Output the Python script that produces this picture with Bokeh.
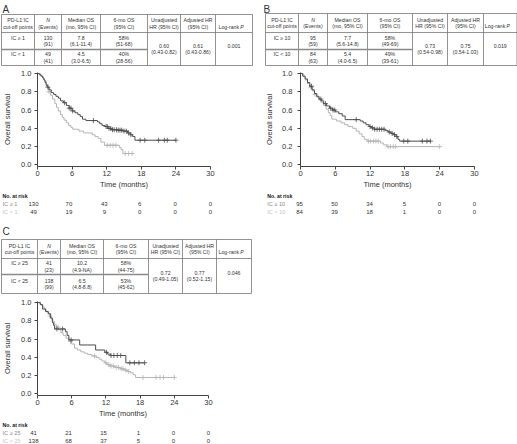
import numpy as np
from bokeh.plotting import figure
from bokeh.layouts import column, row
from bokeh.models import Range1d, NumeralTickFormatter, FixedTicker
from bokeh.core.properties import value
from bokeh.embed import file_html
from bokeh.resources import INLINE

FONT = "Liberation Sans"
DARK = "#4d4d4d"
LIGHT = "#b4b4b4"
TEXT = "#333333"
AXIS = "#444444"
GRIDLINE = "#777777"

# ---------------- data ----------------
TIME_TICKS = [0, 6, 12, 18, 24, 30]
SURV_TICKS = [0.0, 0.2, 0.4, 0.6, 0.8, 1.0]
HEADER = [["PD-L1 IC", "cut-off points"], ["N", "(Events)"], ["Median OS", "(mo, 95% CI)"],
          ["6-mo OS", "(95% CI)"], ["Unadjusted", "HR (95% CI)"], ["Adjusted HR", "(95% CI)"],
          ["Log-rank", "P"]]

# Panel A
a_groups = ["IC \u2265 1", "IC < 1"]
a_n = ["130", "49"]
a_events = ["(91)", "(41)"]
a_median = ["7.8", "4.5"]
a_median_ci = ["(6.1-11.4)", "(3.0-6.5)"]
a_os6 = ["58%", "40%"]
a_os6_ci = ["(51-68)", "(28-56)"]
a_hr = ["0.60", "(0.43-0.82)"]
a_adj = ["0.61", "(0.43-0.86)"]
a_p = "0.001"
a_hi_t = [0, 0.3, 0.6, 0.9, 1.1, 1.3, 1.5, 1.7, 2.0, 2.4, 2.8, 3.2, 3.6, 4.0, 4.5, 5.0, 5.5, 6.0,
          6.5, 7.0, 7.4, 7.8, 8.4, 10.4, 10.8, 11.2, 11.7, 12.2, 12.8, 13.8, 14.8, 15.6, 16.1, 16.5,
          16.9, 24.0]
a_hi_s = [1.0, 0.985, 0.97, 0.95, 0.93, 0.90, 0.87, 0.85, 0.82, 0.79, 0.77, 0.75, 0.73, 0.70, 0.68,
          0.65, 0.62, 0.59, 0.57, 0.55, 0.53, 0.50, 0.485, 0.47, 0.45, 0.43, 0.42, 0.40, 0.385,
          0.38, 0.37, 0.35, 0.33, 0.31, 0.27, 0.27]
a_hi_cens = [1.8, 4.7, 5.5, 5.8, 6.1, 9.7, 11.9, 12.1, 12.4, 12.7, 13.0, 13.3, 13.7, 14.0, 14.3,
             14.6, 15.0, 15.4, 15.8, 16.2, 17.8, 18.6, 21.0, 22.0, 22.5, 24.0]
a_lo_t = [0, 0.5, 0.8, 1.0, 1.2, 1.5, 1.8, 2.0, 2.3, 2.6, 3.0, 3.3, 3.6, 4.0, 4.3, 4.6, 5.0, 5.4,
          5.8, 6.1, 7.2, 8.0, 9.5, 10.0, 10.5, 11.0, 11.6, 14.2, 14.5, 14.8, 16.5]
a_lo_s = [1.0, 0.98, 0.96, 0.94, 0.92, 0.88, 0.84, 0.80, 0.76, 0.72, 0.67, 0.63, 0.59, 0.55, 0.52,
          0.49, 0.46, 0.43, 0.41, 0.39, 0.37, 0.35, 0.33, 0.31, 0.29, 0.25, 0.215, 0.19, 0.17,
          0.125, 0.125]
a_lo_cens = [2.0, 12.1, 12.6, 13.1, 13.6, 15.2, 15.8, 16.4]
a_risk_hi = ["130", "70", "43", "6", "0", "0"]
a_risk_lo = ["49", "19", "9", "0", "0", "0"]

# Panel B
b_groups = ["IC \u2265 10", "IC < 10"]
b_n = ["95", "84"]
b_events = ["(59)", "(63)"]
b_median = ["7.7", "5.4"]
b_median_ci = ["(5.6-14.8)", "(4.0-6.5)"]
b_os6 = ["58%", "49%"]
b_os6_ci = ["(49-69)", "(39-61)"]
b_hr = ["0.73", "(0.54-0.98)"]
b_adj = ["0.75", "(0.54-1.03)"]
b_p = "0.019"
b_hi_t = [0, 0.4, 0.8, 1.2, 1.6, 2.0, 2.4, 2.8, 3.2, 3.6, 4.0, 4.5, 5.0, 5.5, 6.0, 6.6, 7.2, 7.7,
          10.3, 10.8, 11.3, 11.8, 12.2, 12.7, 14.6, 15.1, 15.6, 16.1, 16.5, 16.8, 17.1, 22.5]
b_hi_s = [1.0, 0.97, 0.94, 0.90, 0.86, 0.82, 0.78, 0.75, 0.72, 0.70, 0.67, 0.645, 0.62, 0.60, 0.58,
          0.56, 0.535, 0.495, 0.48, 0.46, 0.44, 0.42, 0.405, 0.39, 0.375, 0.36, 0.345, 0.33, 0.31,
          0.28, 0.26, 0.26]
b_hi_cens = [1.9, 3.5, 4.3, 5.2, 5.6, 5.9, 9.6, 12.0, 12.4, 12.8, 13.2, 13.6, 14.0, 14.4, 15.3,
             15.8, 16.2, 16.6, 17.8, 18.5, 21.0, 21.8, 22.4]
b_lo_t = [0, 0.4, 0.8, 1.2, 1.6, 2.0, 2.4, 2.8, 3.2, 3.6, 4.0, 4.4, 4.8, 5.1, 5.4, 6.2, 7.0, 7.6,
          8.2, 9.0, 9.6, 10.1, 10.6, 11.0, 11.5, 13.8, 14.3, 14.9, 24.0]
b_lo_s = [1.0, 0.97, 0.93, 0.89, 0.85, 0.81, 0.77, 0.74, 0.71, 0.68, 0.65, 0.61, 0.57, 0.54, 0.50,
          0.48, 0.46, 0.44, 0.42, 0.40, 0.37, 0.34, 0.31, 0.28, 0.26, 0.24, 0.22, 0.20, 0.20]
b_lo_cens = [1.8, 2.5, 11.7, 12.1, 12.6, 13.0, 13.4, 15.1, 15.5, 16.0, 16.4, 24.0]
b_risk_hi = ["95", "50", "34", "5", "0", "0"]
b_risk_lo = ["84", "39", "18", "1", "0", "0"]

# Panel C
c_groups = ["IC \u2265 25", "IC < 25"]
c_n = ["41", "138"]
c_events = ["(23)", "(99)"]
c_median = ["10.2", "6.5"]
c_median_ci = ["(4.9-NA)", "(4.8-8.8)"]
c_os6 = ["58%", "53%"]
c_os6_ci = ["(44-75)", "(45-62)"]
c_hr = ["0.72", "(0.49-1.05)"]
c_adj = ["0.77", "(0.52-1.15)"]
c_p = "0.046"
c_hi_t = [0, 0.5, 0.9, 1.4, 1.9, 2.3, 2.6, 2.8, 3.0, 4.9, 5.2, 5.5, 7.4, 10.2, 11.8, 12.3, 12.8,
          15.5, 18.8]
c_hi_s = [1.0, 0.976, 0.927, 0.90, 0.876, 0.83, 0.78, 0.75, 0.71, 0.68, 0.64, 0.59, 0.535, 0.48,
          0.455, 0.435, 0.42, 0.34, 0.34]
c_hi_cens = [3.4, 4.4, 5.9, 12.1, 12.9, 13.4, 14.0, 14.6, 16.2, 17.0, 17.8, 18.8]
c_lo_t = [0, 0.3, 0.6, 0.9, 1.2, 1.5, 1.8, 2.1, 2.4, 2.7, 3.0, 3.3, 3.7, 4.1, 4.5, 5.0, 5.5, 6.0,
          6.5, 7.0, 7.6, 8.2, 8.8, 9.5, 10.3, 10.8, 11.3, 11.8, 12.2, 12.7, 13.6, 14.5, 15.2, 15.8,
          16.3, 16.8, 17.2, 24.0]
c_lo_s = [1.0, 0.985, 0.97, 0.95, 0.93, 0.905, 0.88, 0.85, 0.82, 0.79, 0.76, 0.73, 0.70, 0.67,
          0.64, 0.61, 0.575, 0.545, 0.50, 0.48, 0.46, 0.445, 0.43, 0.415, 0.40, 0.38, 0.36, 0.34,
          0.32, 0.305, 0.29, 0.275, 0.26, 0.245, 0.23, 0.21, 0.18, 0.18]
c_lo_cens = [2.2, 3.6, 5.8, 10.0, 12.0, 12.5, 12.9, 13.3, 13.8, 14.2, 14.7, 15.0, 15.5, 16.0,
             18.5, 20.8, 21.5, 22.1, 24.0]
c_risk_hi = ["41", "21", "15", "1", "0", "0"]
c_risk_lo = ["138", "68", "37", "5", "0", "0"]


# ---------------- helpers ----------------
def txt(p, xs, ys, texts, size, align="center", style="normal", color=TEXT):
    p.text(x=xs, y=ys, text=texts, text_font=value(FONT), text_font_size=value(size),
           text_align=align, text_baseline="middle", text_color=color,
           text_font_style=style)


def base_fig(w, h, **kw):
    p = figure(width=w, height=h, output_backend="svg", toolbar_location=None, title=None,
               outline_line_color=None, **kw)
    p.frame_align = False
    p.grid.visible = False
    return p


def table_figure(w, h, edges, rows, label, label_x, label_y, tbl):
    p = base_fig(w, h, x_range=Range1d(0, w), y_range=Range1d(h, 0),
                 x_axis_type=None, y_axis_type=None, min_border=0)
    txt(p, [label_x], [label_y], [label], "10px", align="left")
    top, hb, mid, bot = rows
    x0s, y0s, x1s, y1s = [], [], [], []
    for y in (top, hb, bot):
        x0s.append(edges[0]); x1s.append(edges[-1]); y0s.append(y); y1s.append(y)
    for x in edges:
        x0s.append(x); x1s.append(x); y0s.append(top); y1s.append(bot)
    p.segment(x0=x0s, y0=y0s, x1=x1s, y1=y1s, line_color=GRIDLINE, line_width=0.8)
    p.segment(x0=[edges[0]], y0=[mid], x1=[edges[4]], y1=[mid], line_color="#8a8a8a",
              line_width=1.5)
    cx = [(edges[i] + edges[i + 1]) / 2 for i in range(7)]
    fs = "5.2px"
    dh = 3.4
    hc = (top + hb) / 2
    for i in range(6):
        style = "italic" if i == 1 else "normal"
        txt(p, [cx[i]], [hc - dh], [HEADER[i][0]], fs, style=style)
        txt(p, [cx[i]], [hc + dh], [HEADER[i][1]], fs)
    txt(p, [cx[6] + 5.0], [hc + dh], [HEADER[6][0]], fs, align="right")
    txt(p, [cx[6] + 6.2], [hc + dh], [HEADER[6][1]], fs, align="left", style="italic")
    groups, n, ev, med, medci, os6, os6ci, hr, adj, pval = tbl
    rc = [(hb + mid) / 2, (mid + bot) / 2]
    for r in range(2):
        txt(p, [cx[0]], [rc[r] - dh], [groups[r]], fs)
        txt(p, [cx[1], cx[1]], [rc[r] - dh, rc[r] + dh], [n[r], ev[r]], fs)
        txt(p, [cx[2], cx[2]], [rc[r] - dh, rc[r] + dh], [med[r], medci[r]], fs)
        txt(p, [cx[3], cx[3]], [rc[r] - dh, rc[r] + dh], [os6[r], os6ci[r]], fs)
    mc = (hb + bot) / 2
    txt(p, [cx[4], cx[4]], [mc - dh, mc + dh], hr, fs)
    txt(p, [cx[5], cx[5]], [mc - dh, mc + dh], adj, fs)
    txt(p, [cx[6]], [mc - dh], [pval], fs)
    return p


def step_at(t, s, x):
    t = np.asarray(t); s = np.asarray(s)
    idx = np.searchsorted(t, np.asarray(x), side="right") - 1
    return s[idx]


def km_figure(w, left, fw, curves, ytick_standoff, ylabel_standoff):
    p = base_fig(w, 125, x_range=Range1d(0, 30), y_range=Range1d(-0.017, 1.01),
                 min_border_left=left, min_border_right=w - left - fw,
                 min_border_top=6, min_border_bottom=22)
    p.xaxis.ticker = FixedTicker(ticks=TIME_TICKS)
    p.yaxis.ticker = FixedTicker(ticks=SURV_TICKS)
    p.yaxis.formatter = NumeralTickFormatter(format="0.0")
    for ax in (p.xaxis[0], p.yaxis[0]):
        ax.axis_line_color = AXIS
        ax.axis_line_width = 1
        ax.major_tick_line_color = AXIS
        ax.major_tick_in = 0
        ax.major_tick_out = 3
        ax.minor_tick_line_color = None
        ax.major_label_text_font = FONT
        ax.major_label_text_font_size = "7.5px"
        ax.major_label_text_color = TEXT
        ax.axis_label_text_font = FONT
        ax.axis_label_text_font_size = "7.5px"
        ax.axis_label_text_font_style = "normal"
        ax.axis_label_text_color = TEXT
    p.xaxis.axis_label = "Time (months)"
    p.yaxis.axis_label = "Overall survival"
    p.xaxis.major_label_standoff = 1
    p.xaxis.axis_label_standoff = 1
    p.yaxis.major_label_standoff = ytick_standoff
    p.yaxis.axis_label_standoff = ylabel_standoff
    for t, s, cens, color in curves:
        p.step(x=t, y=s, mode="after", line_color=color, line_width=1)
        p.scatter(x=cens, y=step_at(t, s, cens), marker="cross", size=5,
                  line_color=color, line_width=0.8)
    return p


def risk_figure(w, left, fw, label_px, groups, hi, lo):
    ppu = fw / 30.0
    p = base_fig(w, 24, x_range=Range1d(-left / ppu, (w - left) / ppu),
                 y_range=Range1d((24 - 4.5) / 7.9, -4.5 / 7.9),
                 x_axis_type=None, y_axis_type=None, min_border=0)
    lx = (label_px - left) / ppu
    txt(p, [lx], [0], ["No. at risk"], "5.2px", align="left", style="bold", color="#111111")
    txt(p, [lx], [1], [groups[0]], "5.6px", align="left", color="#8a8a8a")
    txt(p, [lx], [2], [groups[1]], "5.6px", align="left", color="#c4c4c4")
    txt(p, TIME_TICKS, [1] * 6, hi, "6px")
    txt(p, TIME_TICKS, [2] * 6, lo, "6px")
    return p


def panel(w, th, edges, rows, label, lx, ly, tbl, left, fw, curves, yts, yls, rlx, groups, hi, lo):
    t = table_figure(w, th, edges, rows, label, lx, ly, tbl)
    k = km_figure(w, left, fw, curves, yts, yls)
    r = risk_figure(w, left, fw, rlx, groups, hi, lo)
    return column(t, k, r)


pA = panel(262, 66, [1, 34, 61, 100, 147, 180, 215, 252], [14, 32, 49, 65],
           "A", 2, 9.2,
           (a_groups, a_n, a_events, a_median, a_median_ci, a_os6, a_os6_ci, a_hr, a_adj, a_p),
           33, 177, [(a_lo_t, a_lo_s, a_lo_cens, LIGHT), (a_hi_t, a_hi_s, a_hi_cens, DARK)],
           3, 6, 2, a_groups, a_risk_hi, a_risk_lo)
pB = panel(255, 66, [3, 36, 65, 105, 150, 185, 221, 254.5], [13, 32, 49, 65],
           "B", 1, 9.0,
           (b_groups, b_n, b_events, b_median, b_median_ci, b_os6, b_os6_ci, b_hr, b_adj, b_p),
           37, 175, [(b_lo_t, b_lo_s, b_lo_cens, LIGHT), (b_hi_t, b_hi_s, b_hi_cens, DARK)],
           5, 5, 4.7, b_groups, b_risk_hi, b_risk_lo)
pC = panel(262, 80, [1, 37, 60, 103, 148, 182, 216, 251], [24, 43, 59, 78],
           "C", 2, 16.4,
           (c_groups, c_n, c_events, c_median, c_median_ci, c_os6, c_os6_ci, c_hr, c_adj, c_p),
           33, 175, [(c_lo_t, c_lo_s, c_lo_cens, LIGHT), (c_hi_t, c_hi_s, c_hi_cens, DARK)],
           3, 6, 2, c_groups, c_risk_hi, c_risk_lo)

layout = column(row(pA, pB), pC)

open("out.html", "w").write(file_html(layout, INLINE))
